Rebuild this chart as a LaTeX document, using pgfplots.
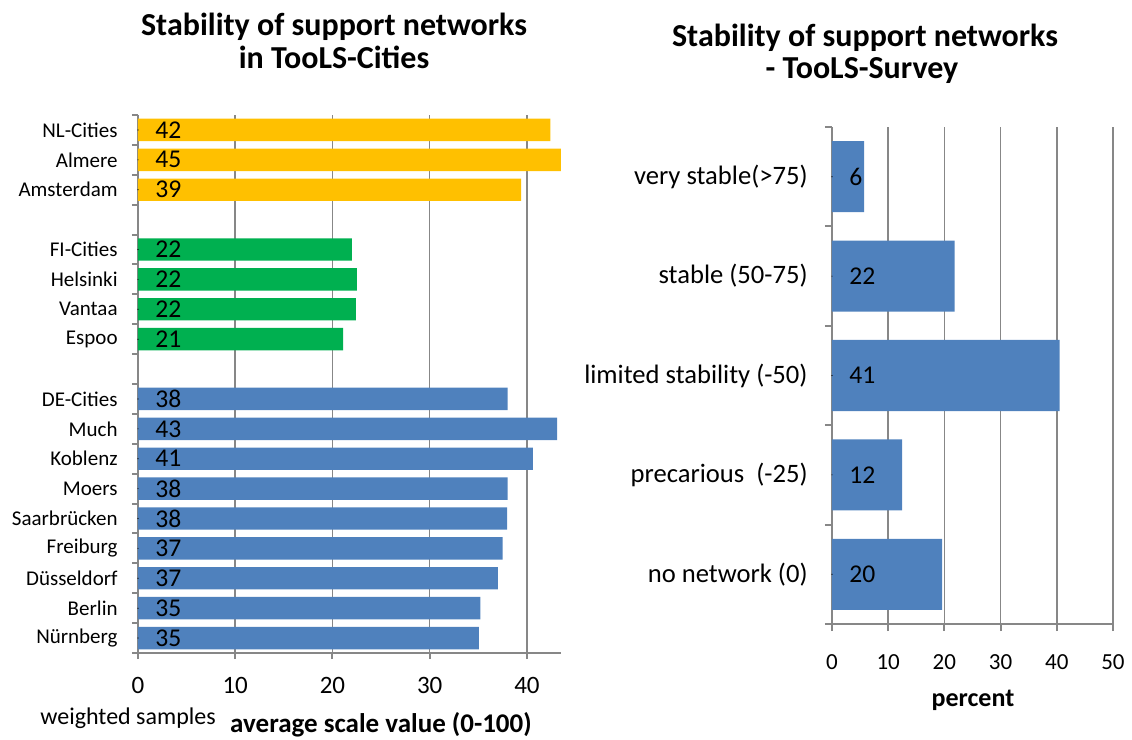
\documentclass[border=0pt]{standalone}
\usepackage{fontspec}
\setmainfont{Carlito}
\usepackage{pgfplots}
\pgfplotsset{compat=1.18}
\definecolor{gold}{HTML}{FFC000}
\definecolor{grn}{HTML}{00B050}
\definecolor{blu}{HTML}{4F81BD}
\definecolor{axgray}{HTML}{878787}
\begin{document}
\begin{tikzpicture}
\useasboundingbox (0pt,0pt) rectangle (566pt,-370pt);
% ---------------- left panel ----------------
\begin{axis}[
  at={(69pt,-326.5pt)}, anchor=south west,
  scale only axis, width=211.5pt, height=269pt,
  xmin=0, xmax=43.5, ymin=-0.5, ymax=17.5,
  axis x line*=bottom, axis y line*=left,
  axis line style={draw=axgray, line width=1pt, -},
  xtick={0,10,20,30,40},
  ytick={0,1,2,3,4,5,6,7,8,10,11,12,13,15,16,17},
  yticklabels={Nürnberg,Berlin,Düsseldorf,Freiburg,Saarbrücken,Moers,Koblenz,Much,DE-Cities,Espoo,Vantaa,Helsinki,FI-Cities,Amsterdam,Almere,NL-Cities},
  minor ytick={-0.5,0.5,...,17.5},
  tick align=outside,
  major tick length=3pt, minor tick length=3pt,
  major y tick style={draw=none},
  minor y tick style={draw=axgray, line width=1pt},
  major x tick style={draw=axgray, line width=1pt},
  xmajorgrids,
  major x grid style={draw=axgray, line width=0.75pt},
  /pgf/number format/assume math mode=true,
  xticklabel style={font=\fontsize{12.5}{12.5}\selectfont, inner sep=0pt},
  xticklabel shift=9pt,
  yticklabel style={font=\fontsize{10.5}{10.5}\selectfont, inner sep=0pt, anchor=east},
  yticklabel shift=7pt,
]
\addplot[xbar, bar shift=0pt, bar width=0.75, fill=gold, draw=none]
  coordinates {(42.4,17) (43.5,16) (39.4,15)};
\addplot[xbar, bar shift=0pt, bar width=0.75, fill=grn, draw=none]
  coordinates {(22.0,13) (22.5,12) (22.4,11) (21.1,10)};
\addplot[xbar, bar shift=0pt, bar width=0.75, fill=blu, draw=none]
  coordinates {(38.0,8) (43.1,7) (40.6,6) (38.0,5) (37.95,4) (37.5,3) (37.0,2) (35.2,1) (35.05,0)};
\addplot[only marks, mark=*, mark size=0.01pt, mark options={draw=none, fill=none},
  point meta=explicit symbolic, nodes near coords,
  nodes near coords style={anchor=west, inner sep=0pt, xshift=8.5pt, font=\fontsize{12.8}{12.8}\selectfont, text=black}]
  coordinates {(0,17)[42] (0,16)[45] (0,15)[39] (0,13)[22] (0,12)[22] (0,11)[22] (0,10)[21]
  (0,8)[38] (0,7)[43] (0,6)[41] (0,5)[38] (0,4)[38] (0,3)[37] (0,2)[37] (0,1)[35] (0,0)[35]};
\end{axis}
% ---------------- right panel ----------------
\begin{axis}[
  at={(416pt,-312pt)}, anchor=south west,
  scale only axis, width=140.5pt, height=248.5pt,
  xmin=0, xmax=50, ymin=-0.5, ymax=4.5,
  axis x line*=bottom, axis y line*=left,
  axis line style={draw=axgray, line width=1pt, -},
  xtick={0,10,20,30,40,50},
  ytick={0,1,2,3,4},
  yticklabels={no network (0),precarious\ \ (-25),limited stability (-50),stable (50-75),very stable(>75)},
  minor ytick={-0.5,0.5,...,4.5},
  tick align=outside,
  major tick length=3.5pt, minor tick length=3.5pt,
  major y tick style={draw=none},
  minor y tick style={draw=axgray, line width=1pt},
  major x tick style={draw=axgray, line width=1pt},
  xmajorgrids,
  major x grid style={draw=axgray, line width=0.75pt},
  /pgf/number format/assume math mode=true,
  xticklabel style={font=\fontsize{11.5}{11.5}\selectfont, inner sep=0pt},
  xticklabel shift=11.5pt,
  yticklabel style={font=\fontsize{13.3}{13.3}\selectfont, inner sep=0pt, anchor=east},
  yticklabel shift=8.5pt,
]
\addplot[xbar, bar shift=0pt, bar width=0.715, fill=blu, draw=none]
  coordinates {(19.6,0) (12.5,1) (40.5,2) (21.8,3) (5.7,4)};
\addplot[only marks, mark=*, mark size=0.01pt, mark options={draw=none, fill=none},
  point meta=explicit symbolic, nodes near coords,
  nodes near coords style={anchor=west, inner sep=0pt, xshift=8.5pt, font=\fontsize{12.8}{12.8}\selectfont, text=black}]
  coordinates {(0,0)[20] (0,1)[12] (0,2)[41] (0,3)[22] (0,4)[6]};
\end{axis}
% ---------------- titles and axis titles ----------------
\node[anchor=base, inner sep=0pt, font=\fontsize{16}{16}\selectfont\bfseries] at (167pt,-17.5pt) {Stability of support networks};
\node[anchor=base, inner sep=0pt, font=\fontsize{16}{16}\selectfont\bfseries] at (167pt,-34pt) {in TooLS-Cities};
\node[anchor=base, inner sep=0pt, font=\fontsize{16}{16}\selectfont\bfseries] at (432.5pt,-23pt) {Stability of support networks};
\node[anchor=base, inner sep=0pt, font=\fontsize{16}{16}\selectfont\bfseries] at (431pt,-39pt) {- TooLS-Survey};
\node[anchor=base west, inner sep=0pt, font=\fontsize{12}{12}\selectfont] at (20pt,-362pt) {weighted samples};
\node[anchor=base, inner sep=0pt, font=\fontsize{13.5}{13.5}\selectfont\bfseries] at (190.5pt,-366pt) {average scale value (0-100)};
\node[anchor=base, inner sep=0pt, font=\fontsize{13}{13}\selectfont\bfseries] at (486.5pt,-353pt) {percent};
\end{tikzpicture}
\end{document}
